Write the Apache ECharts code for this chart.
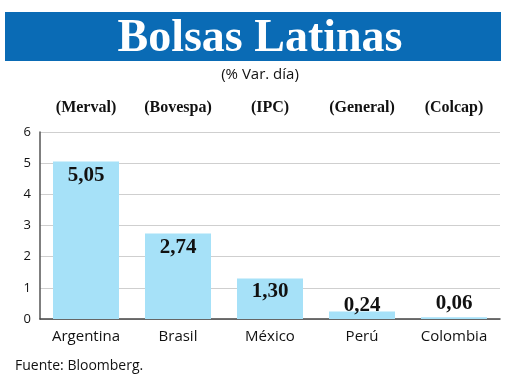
<!DOCTYPE html>
<html><head><meta charset="utf-8">
<script src="https://cdn.jsdelivr.net/npm/echarts@6/dist/echarts.min.js"></script>
<style>html,body{margin:0;padding:0;background:#fff}#c{width:520px;height:384px}</style>
</head><body><div id="c"></div>
<script>
const countries = ['Argentina', 'Brasil', 'México', 'Perú', 'Colombia'];
const indices = ['(Merval)', '(Bovespa)', '(IPC)', '(General)', '(Colcap)'];
const values = [5.05, 2.74, 1.30, 0.24, 0.06];
const yTicks = [0, 1, 2, 3, 4, 5, 6];

const fmt = v => v.toFixed(2).replace('.', ',');
const barData = values.map(v => ({
  value: v,
  label: v >= 1
    ? { position: 'insideTop', distance: 3 }
    : { position: 'top', distance: v < 0.1 ? 3 : -5 }
}));

const chart = echarts.init(document.getElementById('c'), null, { renderer: 'canvas' });
chart.setOption({
  backgroundColor: '#ffffff',
  animation: false,
  graphic: [
    { type: 'rect', shape: { x: 5, y: 12, width: 496, height: 49 }, style: { fill: '#0a6bb5' } },
    { type: 'text', left: 15, top: 359, style: { text: 'Fuente: Bloomberg.', font: '14px "Open Sans", sans-serif', fill: '#111' } }
  ],
  title: [
    { text: 'Bolsas Latinas', left: 'center', top: 16, padding: [0, 0, 0, 0],
      textStyle: { color: '#fff', fontFamily: 'Liberation Serif', fontWeight: 'bold', fontSize: 46 } },
    { text: '(% Var. día)', left: 260, textAlign: 'center', top: 67, padding: 0,
      textStyle: { color: '#111', fontFamily: 'Open Sans', fontWeight: 'normal', fontSize: 15 } }
  ],
  grid: { left: 40, right: 20, top: 132, bottom: 65 },
  xAxis: [
    { type: 'category', data: countries, position: 'bottom',
      axisLine: { lineStyle: { color: '#444', width: 1.5 } }, axisTick: { show: false },
      axisLabel: { color: '#111', fontFamily: 'Open Sans', fontSize: 15, margin: 10 } },
    { type: 'category', data: indices, position: 'top', offset: 16,
      axisLine: { show: false }, axisTick: { show: false },
      axisLabel: { color: '#111', fontFamily: 'Liberation Serif', fontWeight: 'bold', fontSize: 16, margin: 0 } }
  ],
  yAxis: {
    type: 'value', min: 0, max: 6, interval: 1,
    axisLine: { show: true, lineStyle: { color: '#555', width: 1.5 } },
    axisTick: { show: false },
    splitLine: { lineStyle: { color: '#cfcfcf', width: 1 } },
    axisLabel: { color: '#111', fontFamily: 'Open Sans', fontSize: 13, margin: 9,
      formatter: v => yTicks.includes(v) ? String(v) : '' }
  },
  series: [{
    type: 'bar', xAxisIndex: 0, data: barData, barWidth: 66,
    itemStyle: { color: '#a6e1f8' },
    label: { show: true, formatter: p => fmt(p.value), color: '#111',
      fontFamily: 'Liberation Serif', fontWeight: 'bold', fontSize: 21 }
  }]
});
</script></body></html>
